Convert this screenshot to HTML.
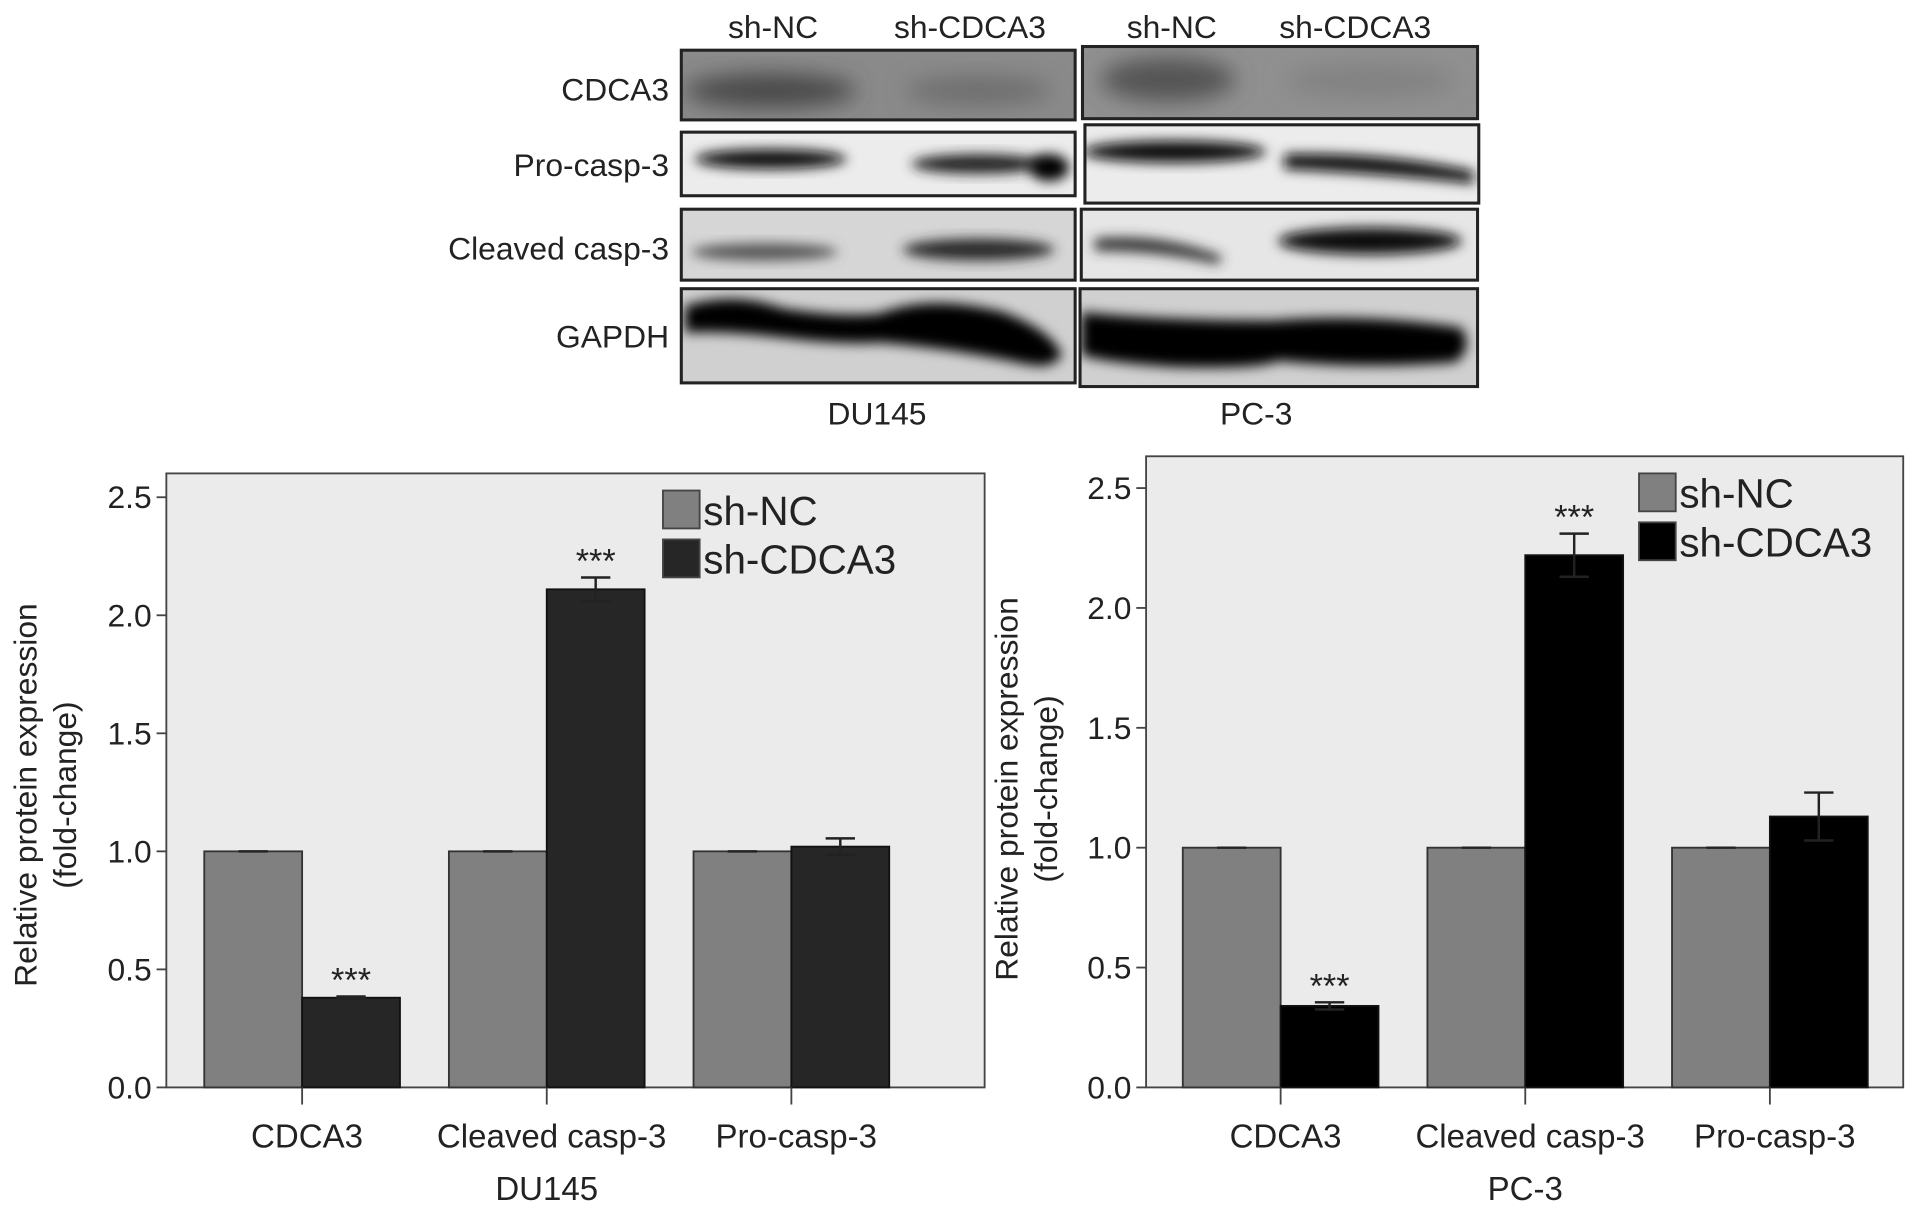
<!DOCTYPE html>
<html><head><meta charset="utf-8">
<style>
html,body{margin:0;padding:0;background:#fff;}
svg{display:block;font-family:"Liberation Sans",Arial,sans-serif;}
</style></head>
<body>
<svg id="fig" width="1913" height="1211" viewBox="0 0 1564 990" xmlns="http://www.w3.org/2000/svg">
<defs>
<filter id="blur4" x="-20%" y="-50%" width="140%" height="200%"><feGaussianBlur stdDeviation="5"/></filter>
<filter id="blur8" x="-20%" y="-50%" width="140%" height="200%"><feGaussianBlur stdDeviation="9"/></filter>
<clipPath id="c1"><rect x="557" y="41" width="322" height="57"/></clipPath>
<clipPath id="c2"><rect x="557" y="108" width="322" height="52"/></clipPath>
<clipPath id="c3"><rect x="557" y="171" width="322" height="58"/></clipPath>
<clipPath id="c4"><rect x="557" y="236" width="322" height="77"/></clipPath>
<clipPath id="d1"><rect x="885" y="38" width="323" height="59"/></clipPath>
<clipPath id="d2"><rect x="887" y="102" width="322" height="64"/></clipPath>
<clipPath id="d3"><rect x="884" y="171" width="324" height="58"/></clipPath>
<clipPath id="d4"><rect x="883" y="236" width="325" height="80"/></clipPath>
</defs>

<g>
  <g font-size="26" fill="#222" text-anchor="middle">
    <text x="632" y="31">sh-NC</text>
    <text x="793" y="31">sh-CDCA3</text>
    <text x="958" y="31">sh-NC</text>
    <text x="1108" y="31">sh-CDCA3</text>
    <text x="717" y="347">DU145</text>
    <text x="1027" y="347">PC-3</text>
  </g>
  <g font-size="26" fill="#222" text-anchor="end">
    <text x="547" y="82">CDCA3</text>
    <text x="547" y="144">Pro-casp-3</text>
    <text x="547" y="212">Cleaved casp-3</text>
    <text x="547" y="284">GAPDH</text>
  </g>
  <g clip-path="url(#c1)"><rect x="557" y="41" width="322" height="57" fill="#8a8a8a"/>
    <ellipse cx="630" cy="74" rx="70" ry="14" fill="#4a4a4a" filter="url(#blur8)"/><ellipse cx="800" cy="74" rx="60" ry="12" fill="#6e6e6e" filter="url(#blur8)"/></g>
  <g clip-path="url(#c2)"><rect x="557" y="108" width="322" height="52" fill="#ececec"/>
    <ellipse cx="630" cy="130" rx="62" ry="8" fill="#111" filter="url(#blur4)"/><ellipse cx="800" cy="134" rx="55" ry="8" fill="#222" filter="url(#blur4)"/><ellipse cx="858" cy="137" rx="16" ry="11" fill="#000" filter="url(#blur4)"/></g>
  <g clip-path="url(#c3)"><rect x="557" y="171" width="322" height="58" fill="#d6d6d6"/>
    <ellipse cx="625" cy="206" rx="60" ry="7" fill="#555" filter="url(#blur4)"/><ellipse cx="800" cy="204" rx="62" ry="9" fill="#2a2a2a" filter="url(#blur4)"/></g>
  <g clip-path="url(#c4)"><rect x="557" y="236" width="322" height="77" fill="#d0d0d0"/>
    <path d="M560,250 Q600,238 640,252 Q690,260 720,256 Q760,240 820,255 Q860,270 868,290 Q862,302 840,298 Q780,285 720,280 Q690,282 640,276 Q590,270 560,272 Z" fill="#000" filter="url(#blur4)"/></g>
  <g clip-path="url(#d1)"><rect x="885" y="38" width="323" height="59" fill="#909090"/>
    <ellipse cx="955" cy="65" rx="55" ry="18" fill="#555" filter="url(#blur8)"/><ellipse cx="1120" cy="66" rx="70" ry="14" fill="#828282" filter="url(#blur8)"/></g>
  <g clip-path="url(#d2)"><rect x="887" y="102" width="322" height="64" fill="#ececec"/>
    <ellipse cx="960" cy="124" rx="75" ry="9" fill="#111" filter="url(#blur4)"/><path d="M1050,126 Q1130,124 1205,140 L1205,150 Q1130,142 1050,138 Z" fill="#111" filter="url(#blur4)"/></g>
  <g clip-path="url(#d3)"><rect x="884" y="171" width="324" height="58" fill="#e6e6e6"/>
    <path d="M895,195 Q950,190 1000,210 L995,216 Q950,205 895,205 Z" fill="#333" filter="url(#blur4)"/><ellipse cx="1120" cy="197" rx="75" ry="11" fill="#0a0a0a" filter="url(#blur4)"/></g>
  <g clip-path="url(#d4)"><rect x="883" y="236" width="325" height="80" fill="#d0d0d0"/>
    <path d="M884,255 Q950,262 1040,262 Q1120,256 1195,268 Q1205,285 1190,296 Q1120,302 1045,295 Q1030,302 960,300 Q900,296 884,290 Z" fill="#000" filter="url(#blur4)"/></g>
  <g fill="none" stroke="#222" stroke-width="2.5">
    <rect x="557" y="41" width="322" height="57"/><rect x="557" y="108" width="322" height="52"/><rect x="557" y="171" width="322" height="58"/><rect x="557" y="236" width="322" height="77"/>
    <rect x="885" y="38" width="323" height="59"/><rect x="887" y="102" width="322" height="64"/><rect x="884" y="171" width="324" height="58"/><rect x="883" y="236" width="325" height="80"/>
  </g>
</g>

<g id="chartL"></g>
<g id="chartR"></g>

<script>
const categories = ["CDCA3", "Cleaved casp-3", "Pro-casp-3"];
const yTicks = [0.0, 0.5, 1.0, 1.5, 2.0, 2.5];
const tickLabels = ["0.0", "0.5", "1.0", "1.5", "2.0", "2.5"];
const seriesNames = ["sh-NC", "sh-CDCA3"];
const du145NC = [1.0, 1.0, 1.0];
const du145KD = [0.38, 2.11, 1.02];
const du145KDerr = [0.005, 0.05, 0.035];
const du145Sig = ["***", "***", ""];
const pc3NC = [1.0, 1.0, 1.0];
const pc3KD = [0.34, 2.22, 1.13];
const pc3KDerr = [0.015, 0.09, 0.10];
const pc3Sig = ["***", "***", ""];

const NS = "http://www.w3.org/2000/svg";
function mk(parent, tag, attrs, text) {
  const e = document.createElementNS(NS, tag);
  for (const k in attrs) e.setAttribute(k, attrs[k]);
  if (text !== undefined) e.textContent = text;
  parent.appendChild(e);
  return e;
}

function drawChart(g, cfg, nc, kd, err, sig, groupName, kdColor, nameP) {
  const y = v => cfg.y0 - v / 0.5 * cfg.step;
  const x = i => cfg.xc0 + i * 200;
  const top = cfg.top;
  let r = mk(g, "rect", {x: cfg.left, y: top, width: cfg.right - cfg.left, height: cfg.y0 - top, fill: "#ebebeb", stroke: "#444", "stroke-width": 1.5});
  
  
  yTicks.forEach((t, i) => {
    const ty = y(t);
    mk(g, "line", {x1: cfg.left - 8, x2: cfg.left, y1: ty, y2: ty, stroke: "#444", "stroke-width": 1.5});
    const tl = mk(g, "text", {x: cfg.left - 12, y: ty + 9, "font-size": 26, "text-anchor": "end", fill: "#222"}, tickLabels[i]);
    
    
  });
  categories.forEach((c, i) => {
    const cx = x(i);
    const b1 = mk(g, "rect", {x: cx - 80, y: y(nc[i]), width: 80, height: y(0) - y(nc[i]), fill: "#808080", stroke: "#333", "stroke-width": 1.5});
    
    
    mk(g, "line", {x1: cx - 52, x2: cx - 28, y1: y(nc[i]), y2: y(nc[i]), stroke: "#222", "stroke-width": 2});
    const b2 = mk(g, "rect", {x: cx, y: y(kd[i]), width: 80, height: y(0) - y(kd[i]), fill: kdColor, stroke: "#111", "stroke-width": 1.5});
    
    
    const ex = cx + 40, hi = y(kd[i] + err[i]), lo = y(kd[i] - err[i]);
    const eb = mk(g, "path", {d: `M${ex},${lo} L${ex},${hi} M${ex-12},${hi} L${ex+12},${hi} M${ex-12},${lo} L${ex+12},${lo}`, stroke: "#222", "stroke-width": 2, fill: "none"});
    
    
    if (sig[i]) {
      const s = mk(g, "text", {x: ex, y: hi - 4, "font-size": 28, "text-anchor": "middle", fill: "#222"}, sig[i]);
      
      
    }
    mk(g, "line", {x1: cx, x2: cx, y1: y(0), y2: y(0) + 14, stroke: "#444", "stroke-width": 1.5});
    const xl = mk(g, "text", {x: cx + 4, y: cfg.y0 + 49, "font-size": 27, "text-anchor": "middle", fill: "#222"}, c);
    
    
  });
  const gl = mk(g, "text", {x: x(1), y: cfg.y0 + 92, "font-size": 27, "text-anchor": "middle", fill: "#222"}, groupName);
  
  
  const yt = mk(g, "text", {transform: `translate(${cfg.ytx},${cfg.yty}) rotate(-90)`, "font-size": 26, "text-anchor": "middle", fill: "#222"});
  
  
  mk(yt, "tspan", {x: 0, dy: 0}, "Relative protein expression");
  mk(yt, "tspan", {x: 0, dy: 32}, "(fold-change)");
  const colors = ["#808080", kdColor];
  seriesNames.forEach((n, i) => {
    const ly = cfg.legY + i * 40;
    const sw = mk(g, "rect", {x: cfg.legX, y: ly, width: 30, height: 31, fill: colors[i], stroke: "#444", "stroke-width": 1.5});
    
    
    const lt = mk(g, "text", {x: cfg.legX + 33, y: ly + 28, "font-size": 33, fill: "#222"}, n);
    
    
  });
}

drawChart(document.getElementById("chartL"),
  {left: 136, right: 805, top: 387, y0: 889, step: 96.5, xc0: 247, ytx: 30, yty: 650, legX: 542, legY: 401},
  du145NC, du145KD, du145KDerr, du145Sig, "DU145", "#262626", "du145");
drawChart(document.getElementById("chartR"),
  {left: 937, right: 1556, top: 373, y0: 889, step: 98, xc0: 1047, ytx: 832, yty: 645, legX: 1340, legY: 387},
  pc3NC, pc3KD, pc3KDerr, pc3Sig, "PC-3", "#000000", "pc3");
</script>
</svg>
</body></html>
